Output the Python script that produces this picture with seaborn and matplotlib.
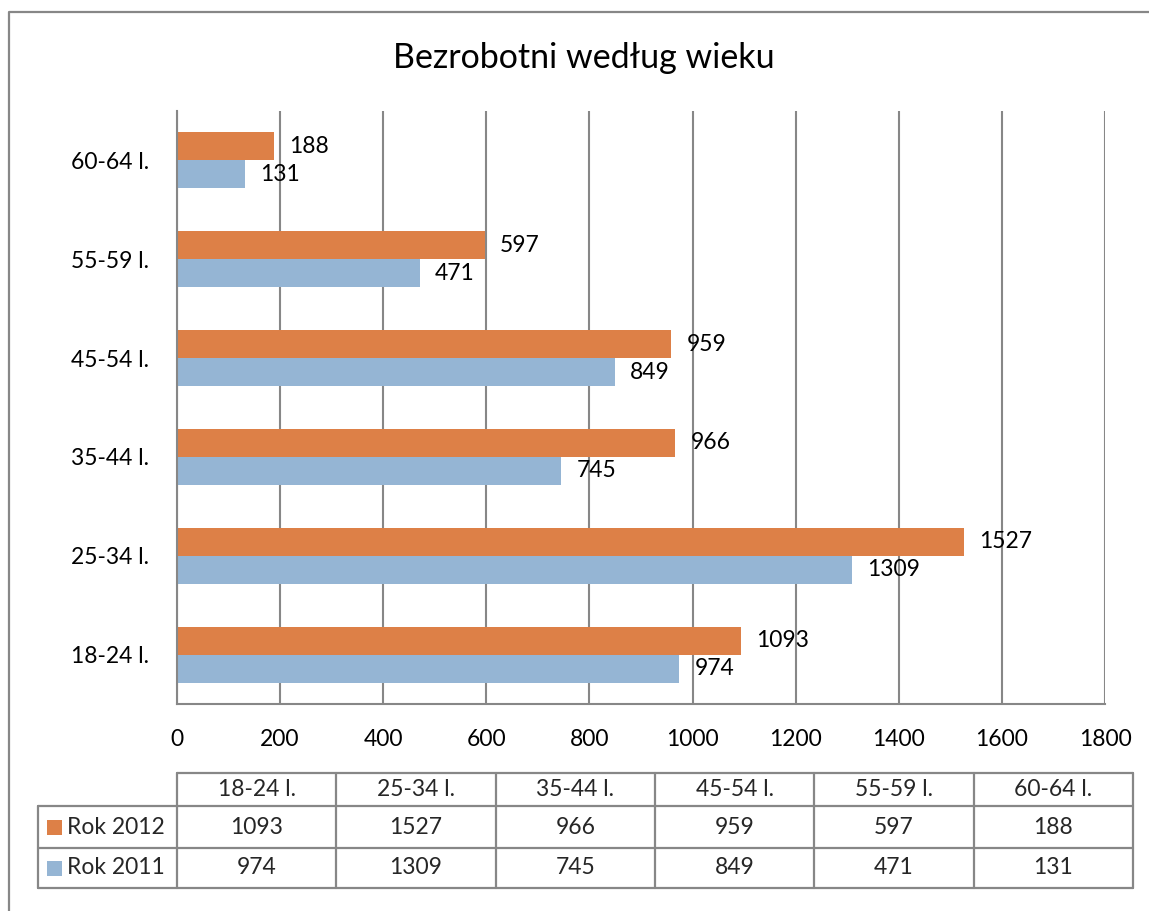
import numpy as np
import pandas as pd
import matplotlib
matplotlib.use("Agg")
import matplotlib.pyplot as plt
from matplotlib.patches import Rectangle
import seaborn as sns

# dane
kategorie = ["18-24 l.", "25-34 l.", "35-44 l.", "45-54 l.", "55-59 l.", "60-64 l."]
rok_2012 = [1093, 1527, 966, 959, 597, 188]
rok_2011 = [974, 1309, 745, 849, 471, 131]
serie = ["Rok 2012", "Rok 2011"]
kolory = {"Rok 2012": "#DD8047", "Rok 2011": "#95B5D4"}
ticki_x = [0, 200, 400, 600, 800, 1000, 1200, 1400, 1600, 1800]

df = pd.DataFrame({
    "wiek": kategorie * 2,
    "seria": ["Rok 2012"] * len(kategorie) + ["Rok 2011"] * len(kategorie),
    "wartosc": rok_2012 + rok_2011,
})

sns.set_theme(style="white")
plt.rcParams["font.family"] = ["Lato", "DejaVu Sans"]

W, H = 1149, 911
SZARY = "#878787"
fig = plt.figure(figsize=(W / 100, H / 100), dpi=100)

# warstwa do ramki i tabeli (wspolrzedne w pikselach)
ov = fig.add_axes([0, 0, 1, 1])
ov.set_xlim(0, W)
ov.set_ylim(H, 0)
ov.axis("off")
ov.plot([9, 9, W + 5], [H + 5, 12, 12], color=SZARY, lw=1.6, solid_capstyle="butt")

ax = fig.add_axes([177 / W, 1 - 704 / H, (1105 - 177) / W, (704 - 111) / H])
ax.set_facecolor("none")
sns.barplot(data=df, x="wartosc", y="wiek", hue="seria", order=kategorie[::-1],
            hue_order=serie, palette=kolory, orient="h", width=0.566,
            saturation=1, linewidth=0, ax=ax, legend=False)

for cont in ax.containers:
    ax.bar_label(cont, padding=11, fontsize=16.5, color="black")

ax.set_xlim(0, 1800)
ax.set_xticks(ticki_x)
ax.grid(axis="x", color=SZARY, lw=1.5)
ax.set_axisbelow(True)
ax.set_xlabel("")
ax.set_ylabel("")
for s in ["top", "right"]:
    ax.spines[s].set_visible(False)
for s in ["left", "bottom"]:
    ax.spines[s].set_color(SZARY)
    ax.spines[s].set_linewidth(1.5)
ax.tick_params(axis="both", length=0, labelsize=16.5, colors="black")
ax.tick_params(axis="x", pad=18)
ax.tick_params(axis="y", pad=20)

fig.text(584 / W, 1 - 58 / H, "Bezrobotni według wieku", ha="center", va="center",
         fontsize=24.5, color="black")

# tabela danych
kol = np.linspace(177, 1133, len(kategorie) + 1)
wiersze = [773, 806, 848, 888]
lw = 1.6
ov.plot([kol[0], kol[-1]], [wiersze[0]] * 2, color=SZARY, lw=lw)
for y in wiersze[1:]:
    ov.plot([38, kol[-1]], [y, y], color=SZARY, lw=lw)
ov.plot([38, 38], [wiersze[1], wiersze[3]], color=SZARY, lw=lw)
for x in kol:
    ov.plot([x, x], [wiersze[0], wiersze[3]], color=SZARY, lw=lw)

for i, k in enumerate(kategorie):
    xc = (kol[i] + kol[i + 1]) / 2
    ov.text(xc, (wiersze[0] + wiersze[1]) / 2, k, ha="center", va="center", fontsize=16.5)
    ov.text(xc, (wiersze[1] + wiersze[2]) / 2, str(rok_2012[i]), ha="center", va="center", fontsize=16.5)
    ov.text(xc, (wiersze[2] + wiersze[3]) / 2, str(rok_2011[i]), ha="center", va="center", fontsize=16.5)

for j, s in enumerate(serie):
    yc = (wiersze[j + 1] + wiersze[j + 2]) / 2
    ov.add_patch(Rectangle((47, yc - 7), 15, 15, color=kolory[s], lw=0))
    ov.text(67, yc, s, ha="left", va="center", fontsize=16.5)

fig.savefig("out.png", dpi=100)
